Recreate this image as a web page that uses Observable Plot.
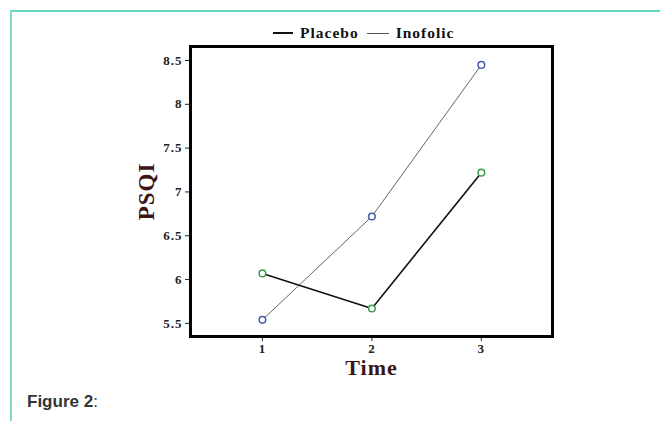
<!DOCTYPE html>
<html>
<head>
<meta charset="utf-8">
<script src="https://cdn.jsdelivr.net/npm/d3@7"></script>
<script src="https://cdn.jsdelivr.net/npm/@observablehq/plot@0.6"></script>
<style>
  html, body { margin: 0; padding: 0; background: #fff; }
  #wrap { position: relative; width: 660px; height: 421px; overflow: hidden; background: #fff; }
  #border-top { position: absolute; left: 10px; top: 10px; width: 650px; height: 2px; background: #5fd6c0; }
  #border-left { position: absolute; left: 10px; top: 10px; width: 2px; height: 411px; background: #7fdccb; }
  #chart { position: absolute; left: 0; top: 0; }
  #legend { position: absolute; top: 24px; left: 273px; font-family: "Liberation Serif", "DejaVu Serif", serif; font-weight: bold; font-size: 15.5px; letter-spacing: 1px; color: #111; display: flex; align-items: center; white-space: nowrap; }
  #legend .sw { display: inline-block; width: 20px; margin-right: 7px; }
  #caption { position: absolute; left: 27px; top: 392px; font-family: "Liberation Sans", Arial, sans-serif; font-size: 17px; color: #333; }
</style>
</head>
<body>
<div id="wrap">
  <div id="border-top"></div>
  <div id="border-left"></div>
  <div id="chart"></div>
  <div id="legend"></div>
  <div id="caption"><b>Figure 2</b>:</div>
</div>
<script>
const times = [1, 2, 3];
const placebo = [6.07, 5.67, 7.22];
const inofolic = [5.54, 6.72, 8.45];
const yTicks = [5.5, 6, 6.5, 7, 7.5, 8, 8.5];
const xTicks = [1, 2, 3];
const seriesNames = ["Placebo", "Inofolic"];
const lineColors = ["#111111", "#666666"];
const lineWidths = [1.6, 1];
const markerColors = ["#3c9a4c", "#4858b0"];

const rows = [];
times.forEach((t, i) => {
  rows.push({series: seriesNames[0], time: t, value: placebo[i]});
  rows.push({series: seriesNames[1], time: t, value: inofolic[i]});
});

const serif = "'Liberation Serif', 'DejaVu Serif', serif";
const labelColor = "#3b1515";

const chart = Plot.plot({
  width: 660,
  height: 421,
  marginLeft: 190,
  marginRight: 108,
  marginTop: 46,
  marginBottom: 85,
  style: {background: "transparent", fontFamily: serif, fontWeight: "bold", fontSize: "13px", color: "#222", letterSpacing: "1px"},
  x: {domain: [0.343, 3.65]},
  y: {domain: [5.35, 8.66]},
  marks: [
    Plot.axisX(xTicks, {tickSize: 5, tickPadding: 2, label: null, tickFormat: d => String(d), fontWeight: "bold"}),
    Plot.axisY(yTicks, {tickSize: 5, tickPadding: 3, label: null, tickFormat: d => String(d), fontWeight: "bold"}),
    Plot.line(rows.filter(d => d.series === seriesNames[1]), {x: "time", y: "value", stroke: lineColors[1], strokeWidth: lineWidths[1]}),
    Plot.line(rows.filter(d => d.series === seriesNames[0]), {x: "time", y: "value", stroke: lineColors[0], strokeWidth: lineWidths[0]}),
    Plot.dot(rows, {x: "time", y: "value", r: 3.3, fill: "white", strokeWidth: 1.5,
      stroke: d => markerColors[seriesNames.indexOf(d.series)]}),
    Plot.frame({stroke: "#000", strokeWidth: 3}),
    Plot.text(["PSQI"], {frameAnchor: "left", textAnchor: "middle", rotate: -90, dx: -44, fontSize: 23, fontWeight: "bold", fill: labelColor, fontFamily: serif}),
    Plot.text(["Time"], {frameAnchor: "bottom", dy: 38, fontSize: 22, fontWeight: "bold", fill: labelColor, fontFamily: serif})
  ]
});
document.getElementById("chart").appendChild(chart);

const legend = document.getElementById("legend");
seriesNames.forEach((name, i) => {
  const sw = document.createElement("span");
  sw.className = "sw";
  sw.style.borderTop = (i === 0 ? 2 : 1.2) + "px solid " + (i === 0 ? "#111" : "#555");
  if (i === 1) { sw.style.width = "22px"; sw.style.marginLeft = "8px"; sw.style.marginRight = "7px"; }
  legend.appendChild(sw);
  const t = document.createElement("span");
  t.textContent = name;
  legend.appendChild(t);
});
</script>
</body>
</html>
